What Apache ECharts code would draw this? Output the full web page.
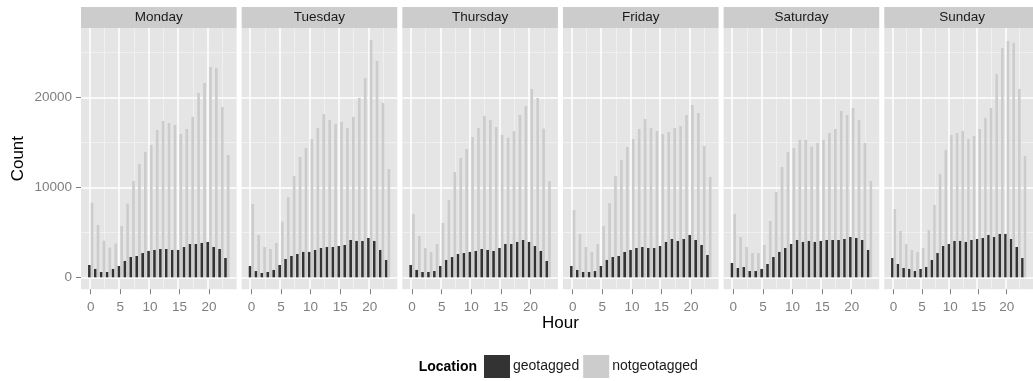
<!DOCTYPE html>
<html>
<head>
<meta charset="utf-8">
<script src="https://cdn.jsdelivr.net/npm/echarts@6/dist/echarts.min.js"></script>
<style>
  html, body { margin: 0; padding: 0; background: #ffffff; }
  #chart { width: 1033px; height: 381px; }
</style>
</head>
<body>
<div id="chart"></div>
<script>
// Tweet counts per hour of day, split by whether the tweet carried a location.
const days = ['Monday', 'Tuesday', 'Thursday', 'Friday', 'Saturday', 'Sunday'];
const hours = [0, 1, 2, 3, 4, 5, 6, 7, 8, 9, 10, 11, 12, 13, 14, 15, 16, 17, 18, 19, 20, 21, 22, 23];

const geoMonday    = [1370, 930, 590, 590, 930, 1260, 1820, 2260, 2370, 2700, 2930, 3040, 3150, 3150, 3040, 3040, 3370, 3700, 3700, 3820, 3930, 3370, 3150, 2150];
const notgeoMonday = [8300, 5820, 4070, 3300, 3740, 5700, 8190, 10700, 12590, 13930, 14700, 16370, 17370, 17150, 16930, 15930, 16480, 17820, 20480, 21590, 23370, 23260, 18930, 13590];

const geoTuesday    = [1260, 700, 480, 590, 820, 1370, 2040, 2370, 2590, 2820, 2820, 3040, 3260, 3370, 3370, 3480, 3590, 4150, 4040, 4040, 4370, 4040, 3040, 1930];
const notgeoTuesday = [8150, 4700, 3370, 3150, 3820, 6190, 8930, 11260, 13370, 14370, 15370, 16590, 18150, 17480, 17040, 17260, 16590, 17820, 19930, 22150, 26370, 24040, 19370, 12040];

const geoThursday    = [1370, 820, 590, 590, 700, 1260, 1930, 2260, 2590, 2700, 2820, 2930, 3150, 3040, 2930, 3260, 3700, 3700, 3930, 4150, 3930, 3480, 2930, 1820];
const notgeoThursday = [7040, 4590, 3260, 2820, 3700, 6040, 8590, 11700, 13260, 14260, 15590, 16590, 17930, 17480, 16700, 15820, 15520, 16260, 18040, 19040, 20930, 19930, 16520, 10700];

const geoFriday    = [1260, 820, 590, 590, 700, 1260, 1930, 2260, 2370, 2820, 3040, 3260, 3370, 3260, 3260, 3480, 3930, 4260, 4040, 4260, 4700, 4150, 3590, 2480];
const notgeoFriday = [7480, 4820, 3370, 2820, 3700, 5700, 8260, 11260, 13040, 14480, 15370, 16480, 17590, 16590, 16260, 15930, 16150, 16590, 16820, 18040, 19150, 18260, 14590, 11150];

const geoSaturday    = [1590, 1040, 1150, 700, 700, 930, 1480, 2260, 2820, 3260, 3700, 4150, 3930, 4040, 3930, 4040, 4150, 4150, 4150, 4260, 4480, 4370, 4150, 3040];
const notgeoSaturday = [7040, 4480, 3370, 2700, 2700, 3590, 6260, 9480, 12260, 13930, 14370, 15260, 15260, 14520, 14930, 15260, 16040, 16480, 18480, 18040, 18820, 17480, 14930, 10700];

const geoSunday    = [2150, 1480, 1040, 930, 700, 930, 1150, 1930, 2700, 3480, 3700, 4040, 4040, 3930, 4150, 4260, 4370, 4700, 4480, 4820, 4820, 4260, 3370, 2150];
const notgeoSunday = [7590, 5150, 3700, 3040, 2820, 3260, 5260, 8040, 11480, 14150, 15820, 16040, 16260, 15370, 15700, 16480, 17700, 18820, 22590, 25480, 26260, 26040, 20930, 13480];

const xTicks = [0, 5, 10, 15, 20];
const xMinor = [2.5, 7.5, 12.5, 17.5, 22.5];
const yTicks = [0, 10000, 20000];
const yMinor = [5000, 15000, 25000];

const geoByDay = [geoMonday, geoTuesday, geoThursday, geoFriday, geoSaturday, geoSunday];
const notgeoByDay = [notgeoMonday, notgeoTuesday, notgeoThursday, notgeoFriday, notgeoSaturday, notgeoSunday];

// Shared scales, padded like a ggplot continuous scale (5% each side).
const barWidthUnits = 0.9;
const xLo = hours[0] - barWidthUnits / 2, xHi = hours[hours.length - 1] + barWidthUnits / 2;
const xPad = (xHi - xLo) * 0.05;
const yTop = Math.max(...notgeoByDay.flat(), ...geoByDay.flat());
const yPad = yTop * 0.05;

const FONT = '"Liberation Sans", Arial, sans-serif';
const panelLeft0 = 81, panelStep = 160.66, panelWidth = 155.6;
const panelTop = 28.1, panelHeight = 261.1;
const stripTop = 7;

const majorStyle = { color: '#ffffff', width: 1.5, type: 'solid' };
const minorStyle = { color: '#F2F2F2', width: 0.8, type: 'solid' };
const gridLines = [
  ...xMinor.map(v => ({ xAxis: v, lineStyle: minorStyle })),
  ...yMinor.map(v => ({ yAxis: v, lineStyle: minorStyle })),
  ...xTicks.map(v => ({ xAxis: v, lineStyle: majorStyle })),
  ...yTicks.map(v => ({ yAxis: v, lineStyle: majorStyle }))
];

const tickStyle = { color: '#7F7F7F', width: 1 };
const plain = v => String(v);

const grids = [], xAxes = [], yAxes = [], series = [], graphics = [];
days.forEach((day, i) => {
  const left = panelLeft0 + i * panelStep;
  grids.push({
    left: left, top: panelTop, width: panelWidth, height: panelHeight,
    show: true, backgroundColor: '#E5E5E5', borderWidth: 0, containLabel: false
  });
  xAxes.push({
    type: 'value', gridIndex: i, min: xLo - xPad, max: xHi + xPad,
    axisLine: { show: true, onZero: false, lineStyle: { color: '#E5E5E5', opacity: 0 } },
    splitLine: { show: false },
    axisTick: { show: true, customValues: xTicks, length: 5, lineStyle: tickStyle },
    axisLabel: { show: true, customValues: xTicks, formatter: plain, margin: 11, color: '#7F7F7F', fontSize: 13.5, fontFamily: FONT }
  });
  yAxes.push({
    type: 'value', gridIndex: i, min: -yPad, max: yTop + yPad,
    axisLine: { show: i === 0, onZero: false, lineStyle: { color: '#E5E5E5', opacity: 0 } },
    splitLine: { show: false },
    axisTick: { show: i === 0, customValues: yTicks, length: 5, lineStyle: tickStyle },
    axisLabel: { show: i === 0, customValues: yTicks, formatter: plain, margin: 9, color: '#7F7F7F', fontSize: 13.5, fontFamily: FONT }
  });
  series.push({
    type: 'bar', name: 'geotagged', xAxisIndex: i, yAxisIndex: i,
    data: hours.map((h, k) => [h, geoByDay[i][k]]),
    itemStyle: { color: '#333333' },
    barGap: '0%', barCategoryGap: '10%',
    silent: true, animation: false,
    markLine: {
      silent: true, symbol: ['none', 'none'], label: { show: false },
      emphasis: { disabled: true }, animation: false, z: 1,
      data: gridLines
    }
  });
  series.push({
    type: 'bar', name: 'notgeotagged', xAxisIndex: i, yAxisIndex: i,
    data: hours.map((h, k) => [h, notgeoByDay[i][k]]),
    itemStyle: { color: '#CCCCCC' },
    barGap: '0%', barCategoryGap: '10%',
    silent: true, animation: false
  });
  // facet strip
  graphics.push({
    type: 'rect', silent: true, z: 0,
    shape: { x: left, y: stripTop, width: panelWidth, height: panelTop - stripTop },
    style: { fill: '#CCCCCC' }
  });
  graphics.push({
    type: 'text', silent: true, z: 1,
    x: left + panelWidth / 2, y: (stripTop + panelTop) / 2,
    style: { text: day, fill: '#1A1A1A', font: '13.5px ' + FONT, align: 'center', verticalAlign: 'middle' }
  });
});

// axis titles and legend title
graphics.push({
  type: 'text', silent: true, x: 18, y: panelTop + panelHeight / 2, rotation: Math.PI / 2,
  style: { text: 'Count', fill: '#000000', font: '17px ' + FONT, align: 'center', verticalAlign: 'middle' }
});
graphics.push({
  type: 'text', silent: true, x: panelLeft0 + (5 * panelStep + panelWidth) / 2, y: 323,
  style: { text: 'Hour', fill: '#000000', font: '17px ' + FONT, align: 'center', verticalAlign: 'middle' }
});
graphics.push({
  type: 'text', silent: true, x: 477, y: 367,
  style: { text: 'Location', fill: '#000000', font: 'bold 14px ' + FONT, align: 'right', verticalAlign: 'middle' }
});

const chart = echarts.init(document.getElementById('chart'), null, { renderer: 'canvas' });
chart.setOption({
  animation: false,
  backgroundColor: '#ffffff',
  grid: grids,
  xAxis: xAxes,
  yAxis: yAxes,
  series: series,
  graphic: graphics,
  legend: {
    data: ['geotagged', 'notgeotagged'],
    left: 484, top: 355, padding: 0,
    icon: 'rect', itemWidth: 26, itemHeight: 23, itemGap: 4,
    selectedMode: false,
    textStyle: { fontSize: 14, color: '#1A1A1A', fontFamily: FONT, padding: [0, 0, 0, -2] }
  }
});
</script>
</body>
</html>
